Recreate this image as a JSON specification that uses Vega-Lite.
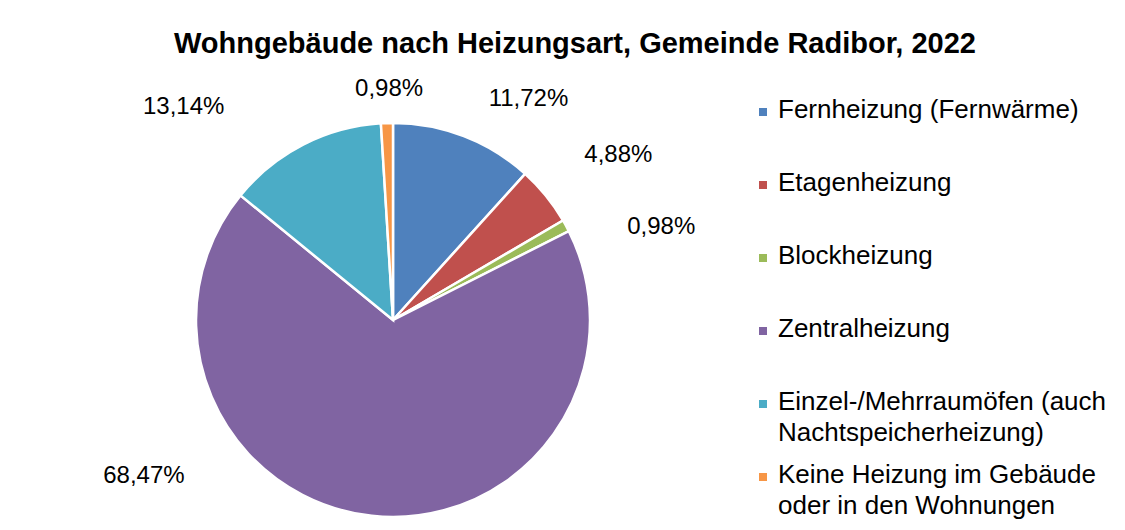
{
  "$schema": "https://vega.github.io/schema/vega-lite/v6.json",
  "width": 700,
  "height": 420,
  "autosize": {"type": "none"},
  "padding": {"left": 43, "top": 110, "right": 382, "bottom": 0},
  "background": "white",
  "title": {
    "text": "Wohngebäude nach Heizungsart, Gemeinde Radibor, 2022",
    "frame": "bounds",
    "anchor": "middle",
    "font": "Liberation Sans",
    "fontSize": 29,
    "fontWeight": "bold",
    "color": "black",
    "offset": -49
  },
  "data": {
    "values": [
      {"nr": 1, "art": "Fernheizung (Fernwärme)", "anteil": 0.1172},
      {"nr": 2, "art": "Etagenheizung", "anteil": 0.0488},
      {"nr": 3, "art": "Blockheizung", "anteil": 0.0098},
      {"nr": 4, "art": "Zentralheizung", "anteil": 0.6847},
      {"nr": 5, "art": "Einzel-/Mehrraumöfen (auch\nNachtspeicherheizung)", "anteil": 0.1314},
      {"nr": 6, "art": "Keine Heizung im Gebäude\noder in den Wohnungen", "anteil": 0.0098}
    ]
  },
  "encoding": {
    "theta": {"field": "anteil", "type": "quantitative", "stack": true},
    "order": {"field": "nr", "type": "quantitative"}
  },
  "layer": [
    {
      "mark": {"type": "arc", "outerRadius": 197, "stroke": "white", "strokeWidth": 2.5},
      "encoding": {
        "color": {
          "field": "art",
          "type": "nominal",
          "scale": {
            "domain": [
              "Fernheizung (Fernwärme)",
              "Etagenheizung",
              "Blockheizung",
              "Zentralheizung",
              "Einzel-/Mehrraumöfen (auch\nNachtspeicherheizung)",
              "Keine Heizung im Gebäude\noder in den Wohnungen"
            ],
            "range": ["#4F81BD", "#C0504D", "#9BBB59", "#8064A2", "#4BACC6", "#F79646"]
          },
          "legend": {
            "title": null,
            "orient": "none",
            "legendX": 707,
            "legendY": -5,
            "symbolType": "M-1,-2.5H1V-0.5H-1Z",
            "symbolSize": 64,
            "symbolStrokeWidth": 0,
            "labelFont": "Liberation Sans",
            "labelFontSize": 26,
            "labelColor": "black",
            "labelLimit": 500,
            "labelOffset": 2,
            "labelBaseline": "alphabetic",
            "gridAlign": "all",
            "rowPadding": 16,
            "padding": 0,
            "labelExpr": "split(datum.label, '\\n')"
          }
        }
      }
    },
    {
      "mark": {"type": "text", "radius": 259, "thetaOffset": 0.183, "font": "Liberation Sans", "fontSize": 24, "color": "black"},
      "encoding": {"text": {"field": "anteil", "type": "quantitative", "format": ".2%", "condition": {"test": "datum.nr != 1", "value": ""}}}
    },
    {
      "mark": {"type": "text", "radius": 279, "thetaOffset": 0.052, "font": "Liberation Sans", "fontSize": 24, "color": "black"},
      "encoding": {"text": {"field": "anteil", "type": "quantitative", "format": ".2%", "condition": {"test": "datum.nr != 2", "value": ""}}}
    },
    {
      "mark": {"type": "text", "radius": 284, "thetaOffset": 0.164, "font": "Liberation Sans", "fontSize": 24, "color": "black"},
      "encoding": {"text": {"field": "anteil", "type": "quantitative", "format": ".2%", "condition": {"test": "datum.nr != 3", "value": ""}}}
    },
    {
      "mark": {"type": "text", "radius": 294, "thetaOffset": 0.902, "font": "Liberation Sans", "fontSize": 24, "color": "black"},
      "encoding": {"text": {"field": "anteil", "type": "quantitative", "format": ".2%", "condition": {"test": "datum.nr != 4", "value": ""}}}
    },
    {
      "mark": {"type": "text", "radius": 299, "thetaOffset": -0.302, "font": "Liberation Sans", "fontSize": 24, "color": "black"},
      "encoding": {"text": {"field": "anteil", "type": "quantitative", "format": ".2%", "condition": {"test": "datum.nr != 5", "value": ""}}}
    },
    {
      "mark": {"type": "text", "radius": 231, "thetaOffset": 0.014, "font": "Liberation Sans", "fontSize": 24, "color": "black"},
      "encoding": {"text": {"field": "anteil", "type": "quantitative", "format": ".2%", "condition": {"test": "datum.nr != 6", "value": ""}}}
    }
  ],
  "config": {
    "locale": {"number": {"decimal": ",", "thousands": ".", "grouping": [3], "currency": ["", " €"]}},
    "style": {"guide-label": {"lineHeight": 31}},
    "view": {"stroke": null}
  }
}
